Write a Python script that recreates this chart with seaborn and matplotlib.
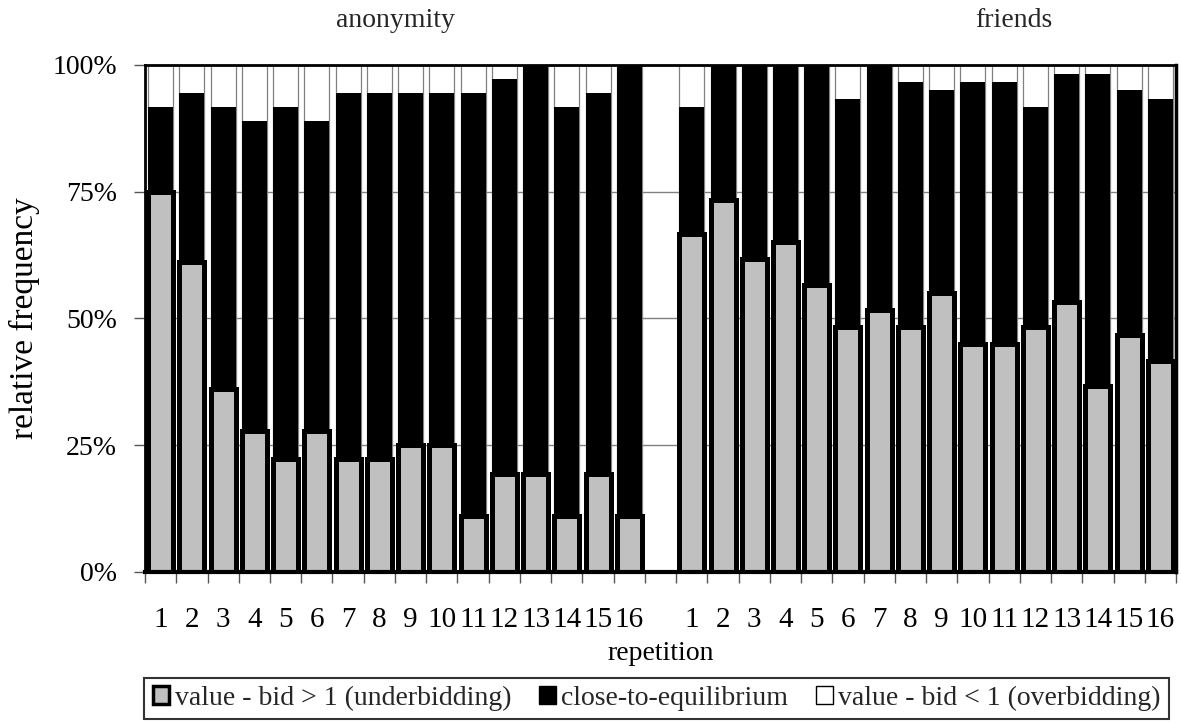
import matplotlib
matplotlib.use("Agg")
import numpy as np
import pandas as pd
import matplotlib.pyplot as plt
import matplotlib.transforms as mtransforms
from matplotlib.patches import Patch
from matplotlib.ticker import FixedLocator, PercentFormatter
import seaborn as sns

# values, in percent of bids per repetition
repetitions = [str(i) for i in range(1, 17)]
anon_under = [75.0, 61.1, 36.1, 27.8, 22.2, 27.8, 22.2, 22.2, 25.0, 25.0, 11.1, 19.4, 19.4, 11.1, 19.4, 11.1]
anon_over = [8.3, 5.6, 8.3, 11.1, 8.3, 11.1, 5.6, 5.6, 5.6, 5.6, 5.6, 2.8, 0.0, 8.3, 5.6, 0.0]
friends_under = [66.7, 73.3, 61.7, 65.0, 56.7, 48.3, 51.7, 48.3, 55.0, 45.0, 45.0, 48.3, 53.3, 36.7, 46.7, 41.7]
friends_over = [8.3, 0.0, 0.0, 0.0, 0.0, 6.7, 0.0, 3.3, 5.0, 3.3, 3.3, 8.3, 1.7, 1.7, 5.0, 6.7]
legend_labels = ["value - bid > 1 (underbidding)", "close-to-equilibrium",
                 "value - bid < 1 (overbidding)"]

GRAY = "#C0C0C0"

sns.set_theme(style="white")
plt.rcParams["font.family"] = ["Liberation Serif", "DejaVu Serif"]

rows = []
for grp, under, over in [("anonymity", anon_under, anon_over),
                         ("friends", friends_under, friends_over)]:
    for rep, u, o in zip(repetitions, under, over):
        rows.append({"slot": f"{grp}-{rep}", "under": u,
                     "upto_close": 100 - o, "total": 100})
df = pd.DataFrame(rows)
order = ([f"anonymity-{r}" for r in repetitions] + ["gap"]
         + [f"friends-{r}" for r in repetitions])

fig, ax = plt.subplots(figsize=(11.81, 7.23), dpi=100)
fig.subplots_adjust(left=0.1228, right=0.9958, top=0.9101, bottom=0.2089)

ax.yaxis.grid(True, color="#808080", linewidth=1)
ax.set_axisbelow(True)

# stacked look: full height (white), then up to equilibrium (black), then underbidding (gray)
sns.barplot(data=df, x="slot", y="total", order=order, color="white",
            saturation=1, edgecolor="#808080", linewidth=0.9, width=0.8,
            errorbar=None, ax=ax)
sns.barplot(data=df, x="slot", y="upto_close", order=order, color="black",
            saturation=1, linewidth=0, width=0.8, errorbar=None, ax=ax)
sns.barplot(data=df, x="slot", y="under", order=order, color=GRAY,
            saturation=1, edgecolor="black", linewidth=3.6, width=0.8,
            errorbar=None, ax=ax)

ax.set_xlim(-0.5, len(order) - 0.5)
ax.set_ylim(0, 100)
ax.set_xticks(range(len(order)))
ax.set_xticklabels(repetitions + [""] + repetitions)
ax.xaxis.set_minor_locator(FixedLocator(np.arange(-0.5, len(order), 1)))
ax.tick_params(axis="x", which="major", length=0, pad=25, labelsize=21,
               colors="black")
ax.tick_params(axis="x", which="minor", bottom=True, length=8, width=1,
               color="#555555", direction="out")
ax.set_yticks([0, 25, 50, 75, 100])
ax.yaxis.set_major_formatter(PercentFormatter(decimals=0))
ax.tick_params(axis="y", left=True, length=8, width=1, color="#555555",
               direction="out", pad=12, labelsize=20, labelcolor="black")

for side, lw in [("top", 2), ("left", 2), ("right", 2.5), ("bottom", 3)]:
    ax.spines[side].set_color("black")
    ax.spines[side].set_linewidth(lw)

ax.set_xlabel("repetition", fontsize=20, labelpad=6, color="black")
ax.set_ylabel("relative frequency", fontsize=24, labelpad=9, color="black")

trans = mtransforms.blended_transform_factory(ax.transData, fig.transFigure)
ax.text(7.5, 0.972, "anonymity", transform=trans, ha="center", va="center",
        fontsize=20)
ax.text(27.3, 0.972, "friends", transform=trans, ha="center", va="center",
        fontsize=20)

handles = [Patch(facecolor=GRAY, edgecolor="black", linewidth=2.5),
           Patch(facecolor="black", edgecolor="black"),
           Patch(facecolor="white", edgecolor="black", linewidth=1)]
leg = fig.legend(handles, legend_labels, loc="center",
                 bbox_to_anchor=(0.556, 0.0339), ncol=3, frameon=True,
                 fancybox=False, edgecolor="black", fontsize=20,
                 handlelength=0.6, handleheight=0.6, handletextpad=0.2,
                 columnspacing=1.0, borderpad=0.3, borderaxespad=0)
leg.get_frame().set_linewidth(1.5)

fig.savefig("out.png", dpi=100)
